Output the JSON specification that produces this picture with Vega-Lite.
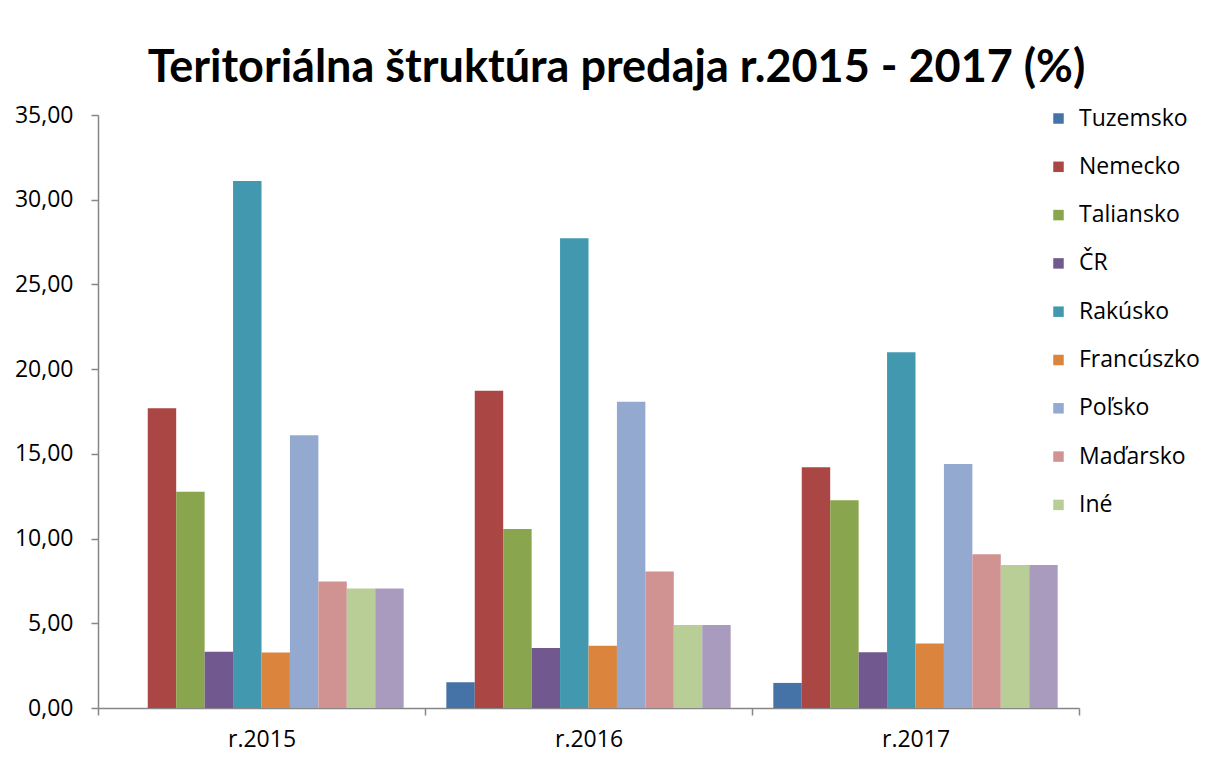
{
  "$schema": "https://vega.github.io/schema/vega-lite/v6.json",
  "autosize": "none",
  "width": 981,
  "height": 593,
  "padding": {"left": 98, "top": 115, "right": 129, "bottom": 50},
  "background": "white",
  "title": {
    "text": "Teritoriálna štruktúra predaja r.2015 - 2017 (%)",
    "font": "Lato",
    "fontSize": 45,
    "fontWeight": "bold",
    "color": "#000000",
    "anchor": "middle",
    "dx": 28,
    "offset": 13
  },
  "data": {
    "values": [
      {"rok": "r.2015", "krajina": "Tuzemsko", "podiel": 0},
      {"rok": "r.2015", "krajina": "Nemecko", "podiel": 17.69},
      {"rok": "r.2015", "krajina": "Taliansko", "podiel": 12.77},
      {"rok": "r.2015", "krajina": "ČR", "podiel": 3.32},
      {"rok": "r.2015", "krajina": "Rakúsko", "podiel": 31.11},
      {"rok": "r.2015", "krajina": "Francúszko", "podiel": 3.27},
      {"rok": "r.2015", "krajina": "Poľsko", "podiel": 16.10},
      {"rok": "r.2015", "krajina": "Maďarsko", "podiel": 7.46},
      {"rok": "r.2015", "krajina": "Iné", "podiel": 7.05},
      {"rok": "r.2015", "krajina": "Spolu iné", "podiel": 7.05},
      {"rok": "r.2016", "krajina": "Tuzemsko", "podiel": 1.52},
      {"rok": "r.2016", "krajina": "Nemecko", "podiel": 18.73},
      {"rok": "r.2016", "krajina": "Taliansko", "podiel": 10.57},
      {"rok": "r.2016", "krajina": "ČR", "podiel": 3.54},
      {"rok": "r.2016", "krajina": "Rakúsko", "podiel": 27.73},
      {"rok": "r.2016", "krajina": "Francúszko", "podiel": 3.68},
      {"rok": "r.2016", "krajina": "Poľsko", "podiel": 18.08},
      {"rok": "r.2016", "krajina": "Maďarsko", "podiel": 8.05},
      {"rok": "r.2016", "krajina": "Iné", "podiel": 4.90},
      {"rok": "r.2016", "krajina": "Spolu iné", "podiel": 4.90},
      {"rok": "r.2017", "krajina": "Tuzemsko", "podiel": 1.48},
      {"rok": "r.2017", "krajina": "Nemecko", "podiel": 14.21},
      {"rok": "r.2017", "krajina": "Taliansko", "podiel": 12.26},
      {"rok": "r.2017", "krajina": "ČR", "podiel": 3.29},
      {"rok": "r.2017", "krajina": "Rakúsko", "podiel": 21.00},
      {"rok": "r.2017", "krajina": "Francúszko", "podiel": 3.80},
      {"rok": "r.2017", "krajina": "Poľsko", "podiel": 14.40},
      {"rok": "r.2017", "krajina": "Maďarsko", "podiel": 9.07},
      {"rok": "r.2017", "krajina": "Iné", "podiel": 8.44},
      {"rok": "r.2017", "krajina": "Spolu iné", "podiel": 8.44}
    ]
  },
  "mark": {"type": "bar"},
  "encoding": {
    "x": {
      "field": "rok",
      "type": "nominal",
      "scale": {"paddingInner": 0, "paddingOuter": 0},
      "axis": {
        "title": null,
        "labelAngle": 0,
        "labelFont": "Open Sans",
        "labelFontSize": 23,
        "labelColor": "#000000",
        "labelPadding": 13,
        "tickBand": "extent",
        "tickSize": 7,
        "tickColor": "#868686",
        "domainColor": "#868686",
        "domainWidth": 1.5,
        "tickWidth": 1.5
      }
    },
    "xOffset": {
      "field": "krajina",
      "type": "nominal",
      "sort": ["Tuzemsko", "Nemecko", "Taliansko", "ČR", "Rakúsko", "Francúszko", "Poľsko", "Maďarsko", "Iné", "Spolu iné"],
      "scale": {"paddingInner": 0, "paddingOuter": 0.75}
    },
    "y": {
      "field": "podiel",
      "type": "quantitative",
      "scale": {"domain": [0, 35], "nice": false},
      "axis": {
        "title": null,
        "grid": false,
        "values": [0, 5, 10, 15, 20, 25, 30, 35],
        "labelExpr": "replace(format(datum.value, '.2f'), '.', ',')",
        "labelFont": "Open Sans",
        "labelFontSize": 23,
        "labelColor": "#000000",
        "labelPadding": 18,
        "tickSize": 7,
        "tickColor": "#868686",
        "domainColor": "#868686",
        "domainWidth": 1.5,
        "tickWidth": 1.5
      }
    },
    "color": {
      "field": "krajina",
      "type": "nominal",
      "scale": {
        "domain": ["Tuzemsko", "Nemecko", "Taliansko", "ČR", "Rakúsko", "Francúszko", "Poľsko", "Maďarsko", "Iné", "Spolu iné"],
        "range": ["#4572A7", "#AA4643", "#89A54E", "#71588F", "#4198AF", "#DB843D", "#93A9CF", "#D19392", "#B9CD96", "#A99BBD"]
      },
      "legend": {
        "title": null,
        "values": ["Tuzemsko", "Nemecko", "Taliansko", "ČR", "Rakúsko", "Francúszko", "Poľsko", "Maďarsko", "Iné"],
        "orient": "none",
        "legendX": 949,
        "legendY": -8,
        "symbolType": "square",
        "symbolSize": 110,
        "symbolStrokeWidth": 0,
        "labelFont": "Open Sans",
        "labelFontSize": 23,
        "labelColor": "#000000",
        "labelOffset": 9,
        "rowPadding": 24.3
      }
    }
  },
  "config": {
    "view": {"stroke": null}
  }
}
